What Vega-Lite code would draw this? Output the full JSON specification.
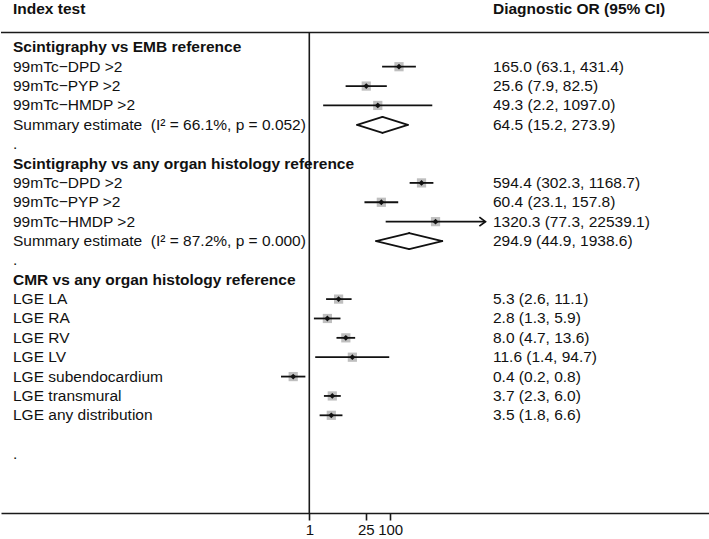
{
  "$schema": "https://vega.github.io/schema/vega-lite/v6.json",
  "width": 709,
  "height": 513,
  "padding": 0,
  "autosize": {"type": "pad"},
  "background": "white",
  "config": {
    "view": {"stroke": null},
    "font": "Liberation Sans",
    "axis": {"labelFont": "Liberation Sans"}
  },
  "datasets": {
    "rows": [
      {"order": 1, "label": "Scintigraphy vs EMB reference", "type": "header"},
      {"order": 2, "label": "99mTc−DPD >2", "type": "study", "est": 165.0, "lo": 63.1, "hi": 431.4, "or_ci": "165.0 (63.1, 431.4)"},
      {"order": 3, "label": "99mTc−PYP >2", "type": "study", "est": 25.6, "lo": 7.9, "hi": 82.5, "or_ci": "25.6 (7.9, 82.5)"},
      {"order": 4, "label": "99mTc−HMDP >2", "type": "study", "est": 49.3, "lo": 2.2, "hi": 1097.0, "or_ci": "49.3 (2.2, 1097.0)"},
      {"order": 5, "label": "Summary estimate \u00a0(I² = 66.1%, p = 0.052)", "type": "summary", "est": 64.5, "lo": 15.2, "hi": 273.9, "or_ci": "64.5 (15.2, 273.9)"},
      {"order": 6, "label": ".", "type": "spacer"},
      {"order": 7, "label": "Scintigraphy vs any organ histology reference", "type": "header"},
      {"order": 8, "label": "99mTc−DPD >2", "type": "study", "est": 594.4, "lo": 302.3, "hi": 1168.7, "or_ci": "594.4 (302.3, 1168.7)"},
      {"order": 9, "label": "99mTc−PYP >2", "type": "study", "est": 60.4, "lo": 23.1, "hi": 157.8, "or_ci": "60.4 (23.1, 157.8)"},
      {"order": 10, "label": "99mTc−HMDP >2", "type": "study", "est": 1320.3, "lo": 77.3, "hi": 22539.1, "or_ci": "1320.3 (77.3, 22539.1)"},
      {"order": 11, "label": "Summary estimate \u00a0(I² = 87.2%, p = 0.000)", "type": "summary", "est": 294.9, "lo": 44.9, "hi": 1938.6, "or_ci": "294.9 (44.9, 1938.6)"},
      {"order": 12, "label": ".", "type": "spacer"},
      {"order": 13, "label": "CMR vs any organ histology reference", "type": "header"},
      {"order": 14, "label": "LGE LA", "type": "study", "est": 5.3, "lo": 2.6, "hi": 11.1, "or_ci": "5.3 (2.6, 11.1)"},
      {"order": 15, "label": "LGE RA", "type": "study", "est": 2.8, "lo": 1.3, "hi": 5.9, "or_ci": "2.8 (1.3, 5.9)"},
      {"order": 16, "label": "LGE RV", "type": "study", "est": 8.0, "lo": 4.7, "hi": 13.6, "or_ci": "8.0 (4.7, 13.6)"},
      {"order": 17, "label": "LGE LV", "type": "study", "est": 11.6, "lo": 1.4, "hi": 94.7, "or_ci": "11.6 (1.4, 94.7)"},
      {"order": 18, "label": "LGE subendocardium", "type": "study", "est": 0.4, "lo": 0.2, "hi": 0.8, "or_ci": "0.4 (0.2, 0.8)"},
      {"order": 19, "label": "LGE transmural", "type": "study", "est": 3.7, "lo": 2.3, "hi": 6.0, "or_ci": "3.7 (2.3, 6.0)"},
      {"order": 20, "label": "LGE any distribution", "type": "study", "est": 3.5, "lo": 1.8, "hi": 6.6, "or_ci": "3.5 (1.8, 6.6)"},
      {"order": 21, "label": "", "type": "spacer"},
      {"order": 22, "label": ".", "type": "spacer"}
    ]
  },
  "layer": [
    {
      "data": {"values": [{}]},
      "mark": {"type": "rule", "color": "#1a1a1a", "strokeWidth": 1.6},
      "encoding": {
        "y": {"datum": 0.234, "type": "quantitative", "scale": {"domain": [-1.444, 25.044], "reverse": true, "nice": false, "zero": false}, "axis": null}
      }
    },
    {
      "data": {"values": [{}]},
      "mark": {"type": "rule", "color": "#1a1a1a", "strokeWidth": 1.6},
      "encoding": {
        "x": {"datum": 1, "type": "quantitative", "scale": {"type": "log", "domain": [2.389e-8, 8.054e9], "nice": false, "zero": false},
          "axis": {"values": [1, 25, 100], "format": "d", "title": null, "grid": false, "domainColor": "#1a1a1a", "domainWidth": 1.6, "tickColor": "#1a1a1a", "tickWidth": 1.6, "tickSize": 7, "labelFontSize": 15, "labelColor": "#111", "labelPadding": 2, "labelOverlap": false, "labelFlush": false}},
        "y": {"datum": 0.234, "type": "quantitative"},
        "y2": {"datum": 25.044}
      }
    },
    {
      "data": {"name": "rows"},
      "transform": [{"filter": "datum.type === 'study'"}],
      "mark": {"type": "point", "shape": "square", "filled": true, "color": "#bfbfbf", "size": 85, "opacity": 1},
      "encoding": {
        "x": {"field": "est", "type": "quantitative"},
        "y": {"field": "order", "type": "quantitative"}
      }
    },
    {
      "data": {"name": "rows"},
      "transform": [{"filter": "datum.type === 'study'"}],
      "mark": {"type": "rule", "color": "#111", "strokeWidth": 1.8},
      "encoding": {
        "x": {"field": "lo", "type": "quantitative"},
        "x2": {"field": "hi"},
        "y": {"field": "order", "type": "quantitative"}
      }
    },
    {
      "data": {"name": "rows"},
      "transform": [{"filter": "datum.type === 'study'"}],
      "mark": {"type": "point", "shape": "diamond", "filled": true, "color": "#111", "size": 34, "opacity": 1},
      "encoding": {
        "x": {"field": "est", "type": "quantitative"},
        "y": {"field": "order", "type": "quantitative"}
      }
    },
    {
      "data": {"name": "rows"},
      "transform": [{"filter": "datum.type === 'study' && datum.hi > 20000"}],
      "mark": {"type": "point", "shape": "M-1,-0.75L0,0L-1,0.75", "filled": false, "stroke": "#111", "strokeWidth": 1.8, "size": 144, "opacity": 1},
      "encoding": {
        "x": {"field": "hi", "type": "quantitative"},
        "y": {"field": "order", "type": "quantitative"}
      }
    },
    {
      "data": {"name": "rows"},
      "transform": [{"filter": "datum.type === 'summary'"}],
      "mark": {"type": "rule", "color": "#111", "strokeWidth": 1.8, "strokeCap": "round", "y2Offset": -8},
      "encoding": {
        "x": {"field": "lo", "type": "quantitative"},
        "x2": {"field": "est"},
        "y": {"field": "order", "type": "quantitative"},
        "y2": {"field": "order"}
      }
    },
    {
      "data": {"name": "rows"},
      "transform": [{"filter": "datum.type === 'summary'"}],
      "mark": {"type": "rule", "color": "#111", "strokeWidth": 1.8, "strokeCap": "round", "yOffset": -8},
      "encoding": {
        "x": {"field": "est", "type": "quantitative"},
        "x2": {"field": "hi"},
        "y": {"field": "order", "type": "quantitative"},
        "y2": {"field": "order"}
      }
    },
    {
      "data": {"name": "rows"},
      "transform": [{"filter": "datum.type === 'summary'"}],
      "mark": {"type": "rule", "color": "#111", "strokeWidth": 1.8, "strokeCap": "round", "y2Offset": 8},
      "encoding": {
        "x": {"field": "lo", "type": "quantitative"},
        "x2": {"field": "est"},
        "y": {"field": "order", "type": "quantitative"},
        "y2": {"field": "order"}
      }
    },
    {
      "data": {"name": "rows"},
      "transform": [{"filter": "datum.type === 'summary'"}],
      "mark": {"type": "rule", "color": "#111", "strokeWidth": 1.8, "strokeCap": "round", "yOffset": 8},
      "encoding": {
        "x": {"field": "est", "type": "quantitative"},
        "x2": {"field": "hi"},
        "y": {"field": "order", "type": "quantitative"},
        "y2": {"field": "order"}
      }
    },
    {
      "data": {"name": "rows"},
      "transform": [{"filter": "datum.type !== 'header'"}],
      "mark": {"type": "text", "align": "left", "baseline": "middle", "fontSize": 15.5, "color": "#111", "font": "Liberation Sans"},
      "encoding": {
        "x": {"datum": 4.73e-8, "type": "quantitative"},
        "y": {"field": "order", "type": "quantitative"},
        "text": {"field": "label"}
      }
    },
    {
      "data": {"name": "rows"},
      "transform": [{"filter": "datum.type === 'header'"}],
      "mark": {"type": "text", "align": "left", "baseline": "middle", "fontSize": 15.5, "fontWeight": "bold", "color": "#111", "font": "Liberation Sans"},
      "encoding": {
        "x": {"datum": 4.73e-8, "type": "quantitative"},
        "y": {"field": "order", "type": "quantitative"},
        "text": {"field": "label"}
      }
    },
    {
      "data": {"name": "rows"},
      "transform": [{"filter": "datum.or_ci != null"}],
      "mark": {"type": "text", "align": "left", "baseline": "middle", "fontSize": 15.5, "color": "#111", "font": "Liberation Sans"},
      "encoding": {
        "x": {"datum": 34780, "type": "quantitative"},
        "y": {"field": "order", "type": "quantitative"},
        "text": {"field": "or_ci"}
      }
    },
    {
      "data": {"values": [{}]},
      "mark": {"type": "text", "align": "left", "baseline": "middle", "fontSize": 15.5, "fontWeight": "bold", "color": "#111", "font": "Liberation Sans"},
      "encoding": {
        "x": {"datum": 4.73e-8, "type": "quantitative"},
        "y": {"datum": -0.964, "type": "quantitative"},
        "text": {"value": "Index test"}
      }
    },
    {
      "data": {"values": [{}]},
      "mark": {"type": "text", "align": "left", "baseline": "middle", "fontSize": 15.5, "fontWeight": "bold", "color": "#111", "font": "Liberation Sans"},
      "encoding": {
        "x": {"datum": 34780, "type": "quantitative"},
        "y": {"datum": -0.964, "type": "quantitative"},
        "text": {"value": "Diagnostic OR (95% CI)"}
      }
    }
  ]
}
